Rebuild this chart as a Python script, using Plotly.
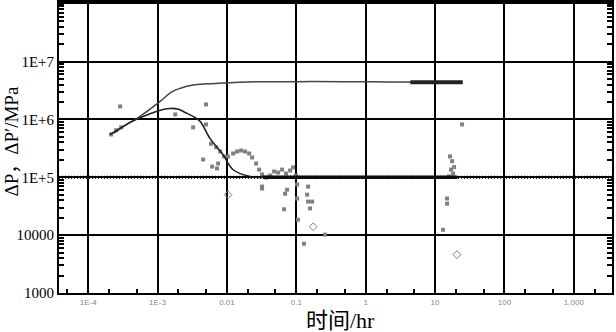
import plotly.graph_objects as go

# ---- data ----
# model pressure curve (upper)
t_model_p = [2.3e-4, 3.2e-4, 5.6e-4, 1.09e-3, 1.6e-3, 2.2e-3, 3.0e-3, 4.1e-3, 6.0e-3, 8.8e-3, 0.02, 0.1, 0.5, 2, 8, 25]
p_model_p = [5.75e5, 7.5e5, 1.13e6, 2.05e6, 3.0e6, 3.5e6, 3.85e6, 4.05e6, 4.15e6, 4.25e6, 4.45e6, 4.5e6, 4.5e6, 4.45e6, 4.4e6, 4.4e6]
# late-time pressure data (thick band)
t_data_p = [4.4, 8, 15, 25]
p_data_p = [4.4e6, 4.4e6, 4.4e6, 4.4e6]

# model derivative curve (lower)
t_model_d = [2.07e-4, 3.0e-4, 4.0e-4, 7.8e-4, 1.2e-3, 1.52e-3, 2.0e-3, 2.5e-3, 3.3e-3, 4.1e-3, 5.7e-3, 8.8e-3, 0.0123, 0.0216, 0.042, 0.1, 1, 10, 25]
p_model_d = [5.5e5, 7.2e5, 8.9e5, 1.26e6, 1.48e6, 1.55e6, 1.5e6, 1.32e6, 1.12e6, 9.3e5, 4.7e5, 2.45e5, 1.35e5, 1.03e5, 1.0e5, 1.0e5, 1.0e5, 1.0e5, 1.0e5]
# late-time derivative data (thick band)
t_data_d = [0.033, 0.1, 1, 10, 21]
p_data_d = [1.0e5, 1.0e5, 1.0e5, 1.0e5, 1.0e5]

# scattered derivative data points (filled squares)
t_pts = [2.14e-4, 2.53e-4, 2.99e-4, 2.89e-4, 5.0e-3, 1.8e-3, 3.26e-3, 5.0e-3, 4.54e-3, 6.12e-3, 7.47e-3, 7.2e-3,
         5.9e-3, 7.0e-3, 8.0e-3, 9.1e-3,
         0.0104, 0.0123, 0.0140, 0.0160, 0.0183, 0.0209, 0.0231, 0.0264, 0.0291, 0.0321, 0.0367, 0.042, 0.0479,
         0.0547, 0.0624, 0.0713, 0.0814, 0.0899, 0.0993, 0.0321, 0.0321,
         0.069, 0.0736, 0.0667, 0.1028, 0.103, 0.106, 0.143, 0.148, 0.158, 0.169, 0.148, 0.129, 0.26,
         24.5, 16.4, 17.6, 18.8, 17.0, 18.2, 15.9, 14.9, 14.9, 13.0]
p_pts = [5.5e5, 6.5e5, 7.3e5, 1.68e6, 1.82e6, 1.22e6, 7.3e5, 8.2e5, 2.03e5, 1.53e5, 1.73e5, 1.42e5,
         3.8e5, 3.3e5, 2.8e5, 2.3e5,
         2.29e5, 2.58e5, 2.79e5, 2.9e5, 2.79e5, 2.58e5, 2.2e5, 1.73e5, 1.36e5, 1.12e5, 9.9e4, 1.07e5, 1.26e5,
         1.21e5, 1.36e5, 1.16e5, 1.31e5, 1.48e5, 1.07e5, 6.4e4, 6.9e4,
         5.2e4, 6.1e4, 2.8e4, 7.5e4, 4.3e4, 1.85e4, 5.0e4, 3.8e4, 2.9e4, 3.8e4, 6.9e4, 7.1e3, 1.02e4,
         8.2e5, 2.3e5, 1.9e5, 1.5e5, 1.36e5, 1.16e5, 1.03e5, 4.3e4, 3.5e4, 1.24e4]

# open diamonds
t_dia = [0.0104, 0.175, 20.7]
p_dia = [5.0e4, 1.4e4, 4.6e3]

# ticks
x_tickvals = [1e-4, 1e-3, 0.01, 0.1, 1, 10, 100, 1000]
x_ticktext = ["1E-4", "1E-3", "0.01", "0.1", "1", "10", "100", "1,000"]
y_tickvals = [1e3, 1e4, 1e5, 1e6, 1e7]
y_ticktext = ["1000", "10000", "1E+5", "1E+6", "1E+7"]

fig = go.Figure()

fig.add_trace(go.Scatter(x=t_pts, y=p_pts, mode="markers",
                         marker=dict(symbol="square", size=4, color="#808080"),
                         showlegend=False))
fig.add_trace(go.Scatter(x=t_dia, y=p_dia, mode="markers",
                         marker=dict(symbol="diamond-open", size=6, color="#808080", line=dict(width=1)),
                         showlegend=False))
fig.add_trace(go.Scatter(x=t_model_p, y=p_model_p, mode="lines", line=dict(color="#444444", width=1.5, shape="spline"),
                         showlegend=False))
fig.add_trace(go.Scatter(x=t_model_d, y=p_model_d, mode="lines", line=dict(color="#222222", width=1.6, shape="spline"),
                         showlegend=False))
fig.add_trace(go.Scatter(x=t_data_p, y=p_data_p, mode="lines", line=dict(color="#222222", width=4),
                         showlegend=False))
fig.add_trace(go.Scatter(x=t_data_d, y=p_data_d, mode="lines", line=dict(color="#111111", width=3.5),
                         showlegend=False))

serif = "Liberation Serif, Noto Sans CJK SC"

fig.update_layout(
    width=616, height=332,
    margin=dict(l=59, r=4, t=2, b=39),
    paper_bgcolor="white", plot_bgcolor="white",
    xaxis=dict(type="log", range=[-4.42, 3.55], automargin=False,
               tickvals=x_tickvals, ticktext=x_ticktext,
               tickfont=dict(family="Liberation Sans", size=8, color="#888888"),
               showgrid=True, gridcolor="black", gridwidth=2,
               showline=True, linecolor="black", linewidth=2, mirror=True,
               ticks="inside", ticklen=5, tickcolor="black", tickwidth=1.5,
               minor=dict(dtick="D2", ticks="inside", ticklen=4, tickcolor="black", showgrid=False),
               zeroline=False),
    yaxis=dict(type="log", range=[3, 8.03], automargin=False,
               tickvals=y_tickvals, ticktext=y_ticktext,
               tickfont=dict(family=serif, size=15, color="black"),
               showgrid=True, gridcolor="black", gridwidth=2,
               showline=True, linecolor="black", linewidth=2, mirror="allticks",
               ticks="inside", ticklen=5, tickcolor="black", tickwidth=1.5,
               minor=dict(dtick="D1", ticks="inside", ticklen=5, tickcolor="black", tickwidth=1.5, showgrid=False),
               zeroline=False),
    shapes=[
        dict(type="line", xref="paper", yref="paper", x0=0, x1=1, y0=1, y1=1,
             line=dict(color="black", width=4)),
        dict(type="line", xref="paper", yref="y", x0=0, x1=1, y0=1e5, y1=1e5,
             line=dict(color="black", width=3, dash="1px,2px")),
    ],
    annotations=[
        dict(text="ΔP，ΔP′/MPa", xref="paper", yref="paper", x=-0.086, y=0.522,
             textangle=-90, showarrow=False, font=dict(family=serif, size=19, color="black"),
             xanchor="center", yanchor="middle"),
        dict(text="时间/hr", xref="paper", yref="paper", x=0.509, y=-0.093,
             showarrow=False, font=dict(family=serif, size=22, color="black"),
             xanchor="center", yanchor="middle"),
    ],
)

fig.write_html("out.html", config={"displayModeBar": False},
               post_script="document.body.style.margin='0';document.body.style.overflow='hidden';")
